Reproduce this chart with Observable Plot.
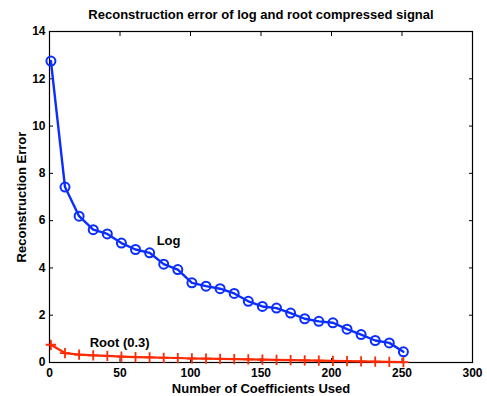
<!DOCTYPE html>
<html>
<head>
<meta charset="utf-8">
<script src="https://cdn.jsdelivr.net/npm/d3@7"></script>
<script src="https://cdn.jsdelivr.net/npm/@observablehq/plot@0.6"></script>
<style>
  html, body { margin: 0; padding: 0; background: #fff; }
  svg { display: block; }
</style>
</head>
<body>
<div id="chart"></div>
<script>
const coeffs = [1, 11, 21, 31, 41, 51, 61, 71, 81, 91, 101, 111, 121, 131, 141, 151, 161, 171, 181, 191, 201, 211, 221, 231, 241, 251];
const logError = [12.75, 7.42, 6.19, 5.62, 5.44, 5.05, 4.78, 4.64, 4.16, 3.93, 3.37, 3.23, 3.12, 2.92, 2.59, 2.37, 2.30, 2.09, 1.85, 1.74, 1.68, 1.41, 1.18, 0.93, 0.83, 0.45];
const rootError = [0.75, 0.40, 0.33, 0.30, 0.28, 0.25, 0.23, 0.22, 0.20, 0.19, 0.17, 0.16, 0.15, 0.14, 0.13, 0.12, 0.11, 0.10, 0.09, 0.08, 0.07, 0.06, 0.05, 0.04, 0.03, 0.02];
const xTicks = [0, 50, 100, 150, 200, 250, 300];
const yTicks = [0, 2, 4, 6, 8, 10, 12, 14];
const seriesLabels = [
  {name: "Log", x: 76, y: 5.16},
  {name: "Root (0.3)", x: 28.5, y: 0.82}
];
const titleText = "Reconstruction error of log and root compressed signal";
const xLabel = "Number of Coefficients Used";
const yLabel = "Reconstruction Error";

const logData = coeffs.map((c, i) => ({x: c, y: logError[i]}));
const rootData = coeffs.map((c, i) => ({x: c, y: rootError[i]}));

const blue = "#0a2eff";
const red = "#ff2a00";
const font = "'Liberation Sans', Arial, Helvetica, sans-serif";

const chart = Plot.plot({
  width: 487,
  height: 396,
  marginLeft: 49,
  marginRight: 15,
  marginTop: 31,
  marginBottom: 34,
  style: {fontFamily: font, fontSize: "12px", fontWeight: "bold", color: "black", background: "white"},
  x: {domain: [0, 300]},
  y: {domain: [0, 14]},
  marks: [
    Plot.axisX(xTicks, {anchor: "bottom", tickSize: 0, tickPadding: 6, label: null, fontWeight: "bold", fontSize: 12}),
    Plot.axisX(xTicks, {anchor: "bottom", tickSize: -4, text: null, label: null}),
    Plot.axisX(xTicks, {anchor: "top", tickSize: -4, text: null, label: null}),
    Plot.axisY(yTicks, {anchor: "left", tickSize: 0, tickPadding: 4, label: null, fontWeight: "bold", fontSize: 12}),
    Plot.axisY(yTicks, {anchor: "left", tickSize: -4, text: null, label: null}),
    Plot.axisY(yTicks, {anchor: "right", tickSize: -4, text: null, label: null}),
    Plot.frame({stroke: "black", strokeWidth: 1.2}),
    Plot.line(logData, {x: "x", y: "y", stroke: blue, strokeWidth: 2.4}),
    Plot.dot(logData, {x: "x", y: "y", stroke: blue, strokeWidth: 2, r: 4.5, fill: "none"}),
    Plot.line(rootData, {x: "x", y: "y", stroke: red, strokeWidth: 2.2}),
    Plot.dot(rootData, {x: "x", y: "y", symbol: "plus", stroke: red, strokeWidth: 1.8, r: 3.4}),
    Plot.text(seriesLabels, {x: "x", y: "y", text: "name", textAnchor: "start", fontSize: 13, fontWeight: "bold", fill: "black"}),
    Plot.text([titleText], {frameAnchor: "top", dy: -17, textAnchor: "middle", lineAnchor: "middle", fontSize: 13, fontWeight: "bold", fill: "black"}),
    Plot.text([xLabel], {frameAnchor: "bottom", dy: 26, textAnchor: "middle", lineAnchor: "middle", fontSize: 13, fontWeight: "bold", fill: "black"}),
    Plot.text([yLabel], {frameAnchor: "left", rotate: -90, dx: -28, textAnchor: "middle", lineAnchor: "middle", fontSize: 13, fontWeight: "bold", fill: "black"})
  ]
});
document.getElementById("chart").appendChild(chart);
</script>
</body>
</html>
